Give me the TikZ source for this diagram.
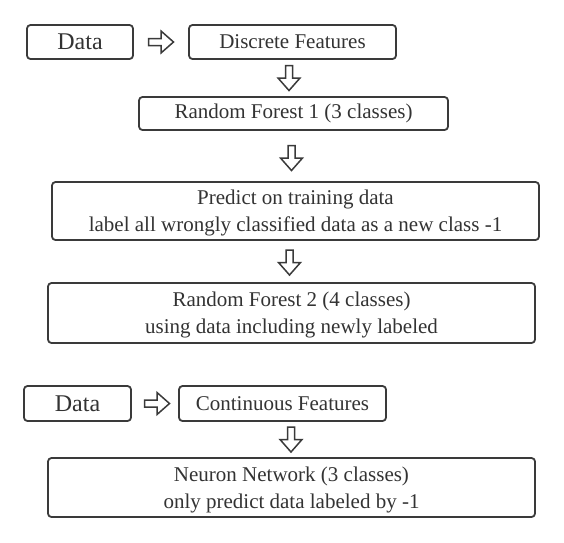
\documentclass[tikz,border=0pt]{standalone}
\usepackage{fontspec}
\setmainfont{Liberation Serif}
\usetikzlibrary{calc}
\definecolor{boxline}{HTML}{3A3A3A}
\definecolor{txt}{HTML}{333333}
\tikzset{
  box/.style={draw=boxline, line width=1.8pt, rounded corners=3.5pt, align=center,
    text=txt, font=\fontsize{21}{27}\selectfont, inner sep=0pt},
  twoline/.style={box, text depth=0pt, yshift=0pt, execute at begin node={\vspace*{5pt}}},
  databox/.style={box, font=\fontsize{24}{28}\selectfont},
  arrowline/.style={draw=boxline, line width=1.5pt, line join=miter},
  rarrow/.pic={\draw[arrowline] (-12.5,-3.5) -- (0,-3.5) -- (0,-11) -- (12.5,0) -- (0,11) -- (0,3.5) -- (-12.5,3.5) -- cycle;},
  darrow/.pic={\draw[arrowline] (-3.5,-12.5) -- (3.5,-12.5) -- (3.5,0) -- (11,0) -- (0,12.5) -- (-11,0) -- (-3.5,0) -- cycle;}
}
\begin{document}
\begin{tikzpicture}[x=1pt,y=-1pt]
\useasboundingbox (0,0) rectangle (564,542);
\fill[white] (0,0) rectangle (564,542);
% top flow
\node[databox, minimum width=106pt, minimum height=34pt] (d1) at (80,42) {Data};
\node[box, minimum width=207pt, minimum height=34pt] (df) at (292.5,42) {Discrete Features};
\node[box, minimum width=309pt, minimum height=33pt] (rf1) at (293.5,113.5) {Random Forest 1 (3 classes)};
\node[twoline, minimum width=487pt, minimum height=58pt] (pr) at (295.5,211) {Predict on training data\\label all wrongly classified data as a new class -1};
\node[twoline, minimum width=487pt, minimum height=60pt] (rf2) at (291.5,313) {Random Forest 2 (4 classes)\\using data including newly labeled};
% bottom flow
\node[databox, minimum width=107pt, minimum height=35pt] (d2) at (77.5,403.5) {Data};
\node[box, minimum width=207pt, minimum height=35pt] (cf) at (282.5,403.5) {Continuous Features};
\node[twoline, minimum width=487pt, minimum height=59pt] (nn) at (291.5,487.5) {Neuron Network (3 classes)\\only predict data labeled by -1};
% arrows
\coordinate (a1) at ($(d1.east)!0.5!(df.west)$);
\coordinate (a2) at ($(d2.east)!0.5!(cf.west)+(2,0)$);
\coordinate (v1) at ($(df.south)!0.5!(rf1.north)+(-4,0)$);
\coordinate (v2) at ($(rf1.south)!0.5!(pr.north)+(-3,2)$);
\coordinate (v3) at ($(pr.south)!0.5!(rf2.north)+(-4,1)$);
\coordinate (v4) at ($(cf.south)!0.5!(nn.north)+(4,0)$);
\pic at (a1) {rarrow};
\pic at (a2) {rarrow};
\pic at (v1) {darrow};
\pic at (v2) {darrow};
\pic at (v3) {darrow};
\pic at (v4) {darrow};
\end{tikzpicture}
\end{document}
